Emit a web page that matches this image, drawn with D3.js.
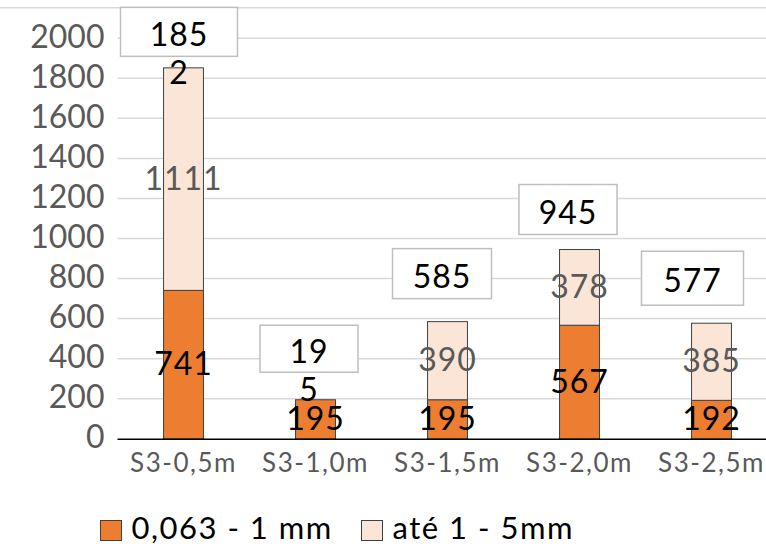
<!DOCTYPE html>
<html>
<head>
<meta charset="utf-8">
<script src="https://cdn.jsdelivr.net/npm/d3@7"></script>
<style>
  html, body { margin: 0; padding: 0; background: #fff; }
  svg { display: block; font-family: Lato, "Open Sans", sans-serif; }
</style>
</head>
<body>
<svg id="chart" width="766" height="544"></svg>
<script>
// Sample depths
const categories = ["S3-0,5m", "S3-1,0m", "S3-1,5m", "S3-2,0m", "S3-2,5m"];
// Fraction 0,063 - 1 mm
const fineValues = [741, 195, 195, 567, 192];
// Fraction até 1 - 5mm
const coarseValues = [1111, 0, 390, 378, 385];
const seriesNames = ["0,063 - 1 mm", "até 1 - 5mm"];
const yTickValues = [0, 200, 400, 600, 800, 1000, 1200, 1400, 1600, 1800, 2000];
// Number of characters that fit on the first line of each total label (0 = no wrap)
const totalWrapAt = [3, 2, 0, 0, 0];

// Presentation settings for the total label boxes (offsets from bar centre / bar top)
const totalBoxStyle = [
  { dx: -4.5, dy: -36, w: 117, h: 49 },
  { dx: -6.5, dy: -51, w: 98, h: 47 },
  { dx: -5.5, dy: -48, w: 99, h: 50 },
  { dx: -11.5, dy: -40, w: 98, h: 50 },
  { dx: -19, dy: -45, w: 102, h: 54 }
];

const colors = ["#ED7D31", "#FBE5D6"];
const labelColors = ["#000000", "#595959"];
const fontSize = 32;
const capShift = fontSize * 0.36;
const lineHeight = 38;

const svg = d3.select("#chart");
const W = 766, H = 544;

const x = d3.scaleBand()
  .domain(categories)
  .range([117.5, 777.5])
  .paddingInner(0.69)
  .paddingOuter(0.345);

const y = d3.scaleLinear()
  .domain([0, 2000])
  .range([438.8, 38.2]);

const rows = categories.map((c, i) => ({ cat: c, fine: fineValues[i], coarse: coarseValues[i] }));
const stacked = d3.stack().keys(["fine", "coarse"])(rows);
const totals = rows.map(r => r.fine + r.coarse);

// Top frame line
svg.append("line")
  .attr("x1", 0).attr("x2", W)
  .attr("y1", 7.7).attr("y2", 7.7)
  .attr("stroke", "#d9d9d9").attr("stroke-width", 1.5);

// Gridlines
svg.append("g")
  .selectAll("line")
  .data(yTickValues.filter(v => v > 0))
  .join("line")
  .attr("x1", 117.5).attr("x2", W)
  .attr("y1", d => y(d)).attr("y2", d => y(d))
  .attr("stroke", "#d9d9d9").attr("stroke-width", 1.5);

// Y axis tick labels
const yAxis = d3.axisLeft(y)
  .tickValues(yTickValues)
  .tickFormat(d3.format("d"))
  .tickSize(0)
  .tickPadding(13);
const yG = svg.append("g").attr("transform", "translate(117.5,0)").call(yAxis);
yG.select(".domain").remove();
yG.selectAll("text")
  .attr("font-family", "Lato, sans-serif")
  .attr("font-size", fontSize)
  .attr("fill", "#595959")
  .attr("dy", null)
  .attr("y", capShift - 2.5);

// Stacked bars
svg.append("g")
  .selectAll("g")
  .data(stacked)
  .join("g")
  .attr("fill", (d, i) => colors[i])
  .selectAll("rect")
  .data(d => d)
  .join("rect")
  .attr("x", d => x(d.data.cat) + 0.5)
  .attr("width", x.bandwidth() - 1)
  .attr("y", d => y(d[1]))
  .attr("height", d => y(d[0]) - y(d[1]))
  .attr("stroke", "#404040")
  .attr("stroke-width", 1);

// X axis
const xAxis = d3.axisBottom(x).tickSize(0).tickPadding(14);
const xG = svg.append("g").attr("transform", `translate(0,${y(0)})`).call(xAxis);
xG.select(".domain")
  .attr("d", `M117.5,0.5H${W}`)
  .attr("stroke", "#000").attr("stroke-width", 1.5);
xG.selectAll("text")
  .attr("font-family", "Lato, sans-serif")
  .attr("font-size", 26)
  .attr("letter-spacing", 1.5)
  .attr("fill", "#595959")
  .attr("dy", null)
  .attr("y", 33);

// Segment value labels
stacked.forEach((layer, li) => {
  svg.append("g")
    .selectAll("text")
    .data(layer.filter(d => d[1] - d[0] > 0))
    .join("text")
    .attr("x", d => x(d.data.cat) + x.bandwidth() / 2)
    .attr("y", d => (y(d[0]) + y(d[1])) / 2 + capShift - 1)
    .attr("text-anchor", "middle")
    .attr("font-size", fontSize)
    .attr("letter-spacing", 1)
    .attr("fill", labelColors[li])
    .text(d => d[1] - d[0]);
});

// Total labels in boxes
const totalG = svg.append("g");
totals.forEach((t, i) => {
  const s = totalBoxStyle[i];
  const cx = x(categories[i]) + x.bandwidth() / 2 + s.dx;
  const cy = y(t) + s.dy;
  totalG.append("rect")
    .attr("x", cx - s.w / 2).attr("y", cy - s.h / 2)
    .attr("width", s.w).attr("height", s.h)
    .attr("fill", "#fff")
    .attr("stroke", "#bfbfbf").attr("stroke-width", 1.5);
  const str = String(t);
  const lines = totalWrapAt[i] > 0 ? [str.slice(0, totalWrapAt[i]), str.slice(totalWrapAt[i])] : [str];
  lines.forEach((ln, k) => {
    totalG.append("text")
      .attr("x", cx)
      .attr("y", cy + 2.5 + capShift + k * lineHeight)
      .attr("text-anchor", "middle")
      .attr("font-size", fontSize)
      .attr("letter-spacing", 1)
      .attr("fill", "#000")
      .text(ln);
  });
});

// Legend
const legendItems = [
  { name: seriesNames[0], color: colors[0], x: 100.5 },
  { name: seriesNames[1], color: colors[1], x: 361.5 }
];
const lg = svg.append("g");
legendItems.forEach(it => {
  lg.append("rect")
    .attr("x", it.x).attr("y", 520.5)
    .attr("width", 21).attr("height", 20)
    .attr("fill", it.color)
    .attr("stroke", "#404040").attr("stroke-width", 1);
  lg.append("text")
    .attr("x", it.x + 31)
    .attr("y", 538.5)
    .attr("font-size", 31)
    .attr("letter-spacing", 1.5)
    .attr("fill", "#000")
    .text(it.name);
});
</script>
</body>
</html>
